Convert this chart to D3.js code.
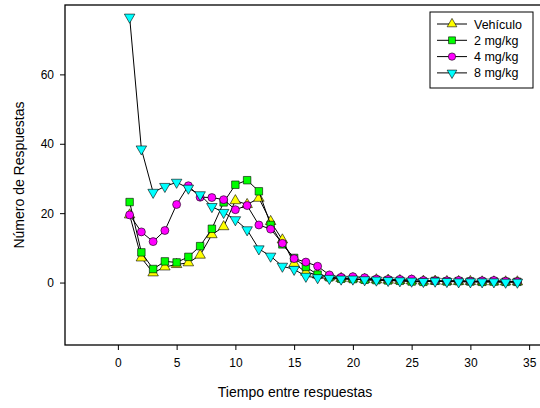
<!DOCTYPE html>
<html><head><meta charset="utf-8">
<script src="https://cdn.jsdelivr.net/npm/d3@7"></script>
<style>body{margin:0;background:#fff}svg{display:block}text{font-family:"Liberation Sans",Arial,sans-serif}</style>
</head><body><svg id="c" width="540" height="408"></svg>
<script>
const xs = d3.range(1, 35);
const vehiculo = [19.5,7.1,2.8,4.5,5.2,5.7,7.9,13.8,16.1,23.6,22.5,24.3,17.6,12.3,5.5,3.0,2.2,1.6,1.2,1.1,0.9,0.8,0.7,0.6,0.5,0.4,0.4,0.3,0.3,0.3,0.2,0.2,0.2,0.2];
const mg2 = [23.2,8.7,3.9,6.1,5.8,7.4,10.5,15.5,23.1,28.2,29.5,26.3,16.6,11.0,7.1,4.5,2.3,1.5,1.1,1.0,0.8,0.7,0.6,0.5,0.3,0.2,0.5,0.3,0.4,0.3,0.2,0.3,0.2,0.2];
const mg4 = [19.5,14.6,11.8,15.0,22.5,27.9,24.6,24.5,23.9,21.0,22.2,16.6,15.4,11.3,6.9,5.9,4.7,2.2,1.5,1.7,1.4,1.0,0.9,0.9,1.0,0.6,0.5,0.5,0.6,0.4,0.5,0.6,0.4,0.3];
const mg8 = [76.5,38.5,26.0,27.7,28.9,27.2,25.3,21.9,20.2,18.1,15.2,9.7,7.6,4.7,3.8,1.8,1.4,1.2,1.0,1.0,0.8,0.7,0.6,0.5,0.4,0.3,0.4,0.3,0.2,0.2,0.2,0.2,0.1,0.1];
const seriesNames = ["Vehículo","2 mg/kg","4 mg/kg","8 mg/kg"];
const xTicks = [0,5,10,15,20,25,30,35];
const yTicks = [0,20,40,60];

const series = [
  {name: seriesNames[0], vals: vehiculo, color:"#ffff00", sym:d3.symbolTriangle, rot:0, size:48},
  {name: seriesNames[1], vals: mg2, color:"#00ff00", sym:d3.symbolSquare, rot:0, size:56},
  {name: seriesNames[2], vals: mg4, color:"#ff00ff", sym:d3.symbolCircle, rot:0, size:50},
  {name: seriesNames[3], vals: mg8, color:"#00ffff", sym:d3.symbolTriangle, rot:180, size:48}
];

const svg = d3.select("#c");
const L = 65, T = 5, B = 345;
const x = d3.scaleLinear().domain([-4.5, 37]).range([L, L + 41.5*11.75]);
const y = d3.scaleLinear().domain([-18, 80]).range([B, T]);

// frame
svg.append("rect").attr("x", L).attr("y", T).attr("width", x(37)-L).attr("height", B-T)
  .attr("fill","none").attr("stroke","#000").attr("stroke-width",1.3);

const xAxis = svg.append("g").attr("transform",`translate(0,${B})`)
  .call(d3.axisBottom(x).tickValues(xTicks).tickSize(5).tickPadding(8).tickFormat(d3.format("d")));
const yAxis = svg.append("g").attr("transform",`translate(${L},0)`)
  .call(d3.axisLeft(y).tickValues(yTicks).tickSize(5).tickPadding(6).tickFormat(d3.format("d")));
[xAxis,yAxis].forEach(g=>{
  g.select(".domain").remove();
  g.selectAll("line").attr("stroke","#000");
  g.selectAll("text").attr("font-size",12).attr("fill","#000").style("font-family","'Liberation Sans',Arial,sans-serif");
});

svg.append("text").attr("x", 295).attr("y", 397).attr("text-anchor","middle").attr("font-size",14).text("Tiempo entre respuestas");
svg.append("text").attr("transform","translate(24,175) rotate(-90)").attr("text-anchor","middle").attr("font-size",14).text("Número de Respuestas");

const line = d3.line().x((d,i)=>x(xs[i])).y(d=>y(d));
series.forEach(s=>{
  const g = svg.append("g");
  g.append("path").attr("d", line(s.vals)).attr("fill","none").attr("stroke","#000").attr("stroke-width",1);
  g.selectAll("path.m").data(s.vals).join("path").attr("class","m")
    .attr("d", d3.symbol().type(s.sym).size(s.size))
    .attr("transform",(d,i)=>`translate(${x(xs[i])},${y(d)}) rotate(${s.rot})`)
    .attr("fill", s.color).attr("stroke","#000").attr("stroke-width",0.6);
});

// legend
const lg = svg.append("g");
lg.append("rect").attr("x",430).attr("y",12).attr("width",103).attr("height",76)
  .attr("fill","#fff").attr("stroke","#000").attr("stroke-width",1);
series.forEach((s,i)=>{
  const yy = 24 + i*16.3;
  lg.append("line").attr("x1",437).attr("x2",467).attr("y1",yy).attr("y2",yy).attr("stroke","#000");
  lg.append("path").attr("d", d3.symbol().type(s.sym).size(s.size*0.85)())
    .attr("transform",`translate(452,${yy}) rotate(${s.rot})`)
    .attr("fill",s.color).attr("stroke","#000").attr("stroke-width",0.6);
  lg.append("text").attr("x",474).attr("y",yy+4.5).attr("font-size",12.5).text(s.name);
});
</script></body></html>
